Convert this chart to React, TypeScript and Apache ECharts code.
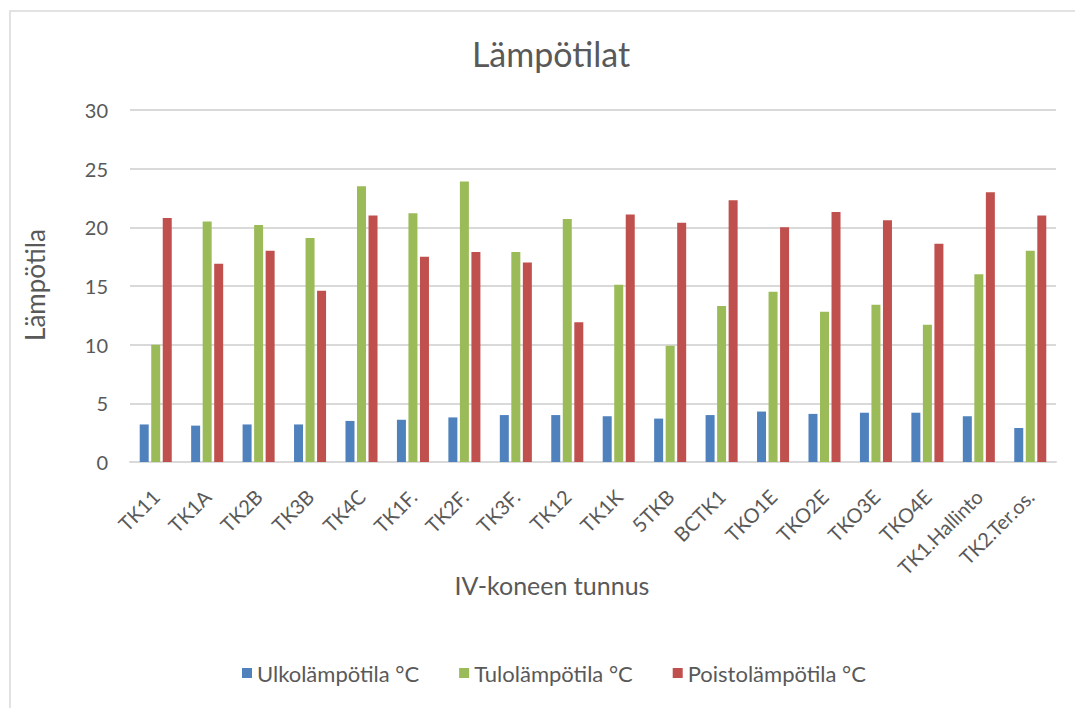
import React, { useEffect, useRef } from "react";
import * as echarts from "echarts";

const categories = ["TK11", "TK1A", "TK2B", "TK3B", "TK4C", "TK1F.", "TK2F.", "TK3F.", "TK12", "TK1K", "5TKB", "BCTK1", "TKO1E", "TKO2E", "TKO3E", "TKO4E", "TK1.Hallinto", "TK2.Ter.os."];
const ulko = [3.2, 3.1, 3.2, 3.2, 3.5, 3.6, 3.8, 4.0, 4.0, 3.9, 3.7, 4.0, 4.3, 4.1, 4.2, 4.2, 3.9, 2.9];
const tulo = [10.0, 20.5, 20.2, 19.1, 23.5, 21.2, 23.9, 17.9, 20.7, 15.1, 9.9, 13.3, 14.5, 12.8, 13.4, 11.7, 16.0, 18.0];
const poisto = [20.8, 16.9, 18.0, 14.6, 21.0, 17.5, 17.9, 17.0, 11.9, 21.1, 20.4, 22.3, 20.0, 21.3, 20.6, 18.6, 23.0, 21.0];
const seriesNames = ["Ulkolämpötila °C", "Tulolämpötila °C", "Poistolämpötila °C"];
const colors = ["#4F81BD", "#9BBB59", "#C0504D"];

const FONT = "Lato, 'Open Sans', sans-serif";
const TXT = "#595959";

export default function App() {
  const ref = useRef<HTMLDivElement>(null);
  useEffect(() => {
    document.body.style.margin = "0";
    const chart = echarts.init(ref.current!, null, { renderer: "svg" });
    const mk = (name: string, data: number[], color: string) => ({
      name,
      type: "bar",
      data,
      barWidth: 9,
      barGap: "28%",
      itemStyle: { color },
    });
    chart.setOption({
      animation: false,
      backgroundColor: "#ffffff",
      textStyle: { fontFamily: FONT },
      title: {
        text: "Lämpötilat",
        left: 546,
        textAlign: "center",
        top: 31,
        textStyle: { fontFamily: FONT, fontSize: 34, fontWeight: "normal", color: TXT },
      },
      grid: { left: 130, right: 19, top: 110, bottom: 246, containLabel: false },
      legend: {
        bottom: 19,
        left: 237,
        itemWidth: 10,
        itemHeight: 10,
        itemGap: 40,
        icon: "rect",
        textStyle: { fontFamily: FONT, fontSize: 22, color: TXT },
        data: seriesNames,
      },
      xAxis: {
        type: "category",
        data: categories,
        axisLine: { lineStyle: { color: "#D9D9D9", width: 2 } },
        axisTick: { show: false },
        axisLabel: { rotate: 45, fontFamily: FONT, fontSize: 20, color: TXT, margin: 31, interval: 0 },
      },
      yAxis: {
        type: "value",
        min: 0,
        max: 30,
        interval: 5,
        axisLine: { show: false },
        axisTick: { show: false },
        splitLine: { lineStyle: { color: "#D9D9D9", width: 2 } },
        axisLabel: { fontFamily: FONT, fontSize: 20, color: TXT, margin: 22 },
      },
      graphic: [
        {
          type: "rect",
          shape: { x: 10, y: 11, width: 1075, height: 710 },
          style: { fill: "none", stroke: "#D9D9D9", lineWidth: 1.5 },
          silent: true,
        },
        {
          type: "text",
          x: 35,
          y: 285,
          rotation: Math.PI / 2,
          style: { text: "Lämpötila", fontFamily: FONT, fontSize: 26, fill: TXT, align: "center", verticalAlign: "middle" },
        },
        {
          type: "text",
          x: 552,
          y: 585,
          style: { text: "IV-koneen tunnus", fontFamily: FONT, fontSize: 25, fill: TXT, align: "center", verticalAlign: "middle" },
        },
      ],
      series: [mk(seriesNames[0], ulko, colors[0]), mk(seriesNames[1], tulo, colors[1]), mk(seriesNames[2], poisto, colors[2])],
    });
    return () => chart.dispose();
  }, []);
  return <div ref={ref} style={{ width: 1075, height: 708 }} />;
}
